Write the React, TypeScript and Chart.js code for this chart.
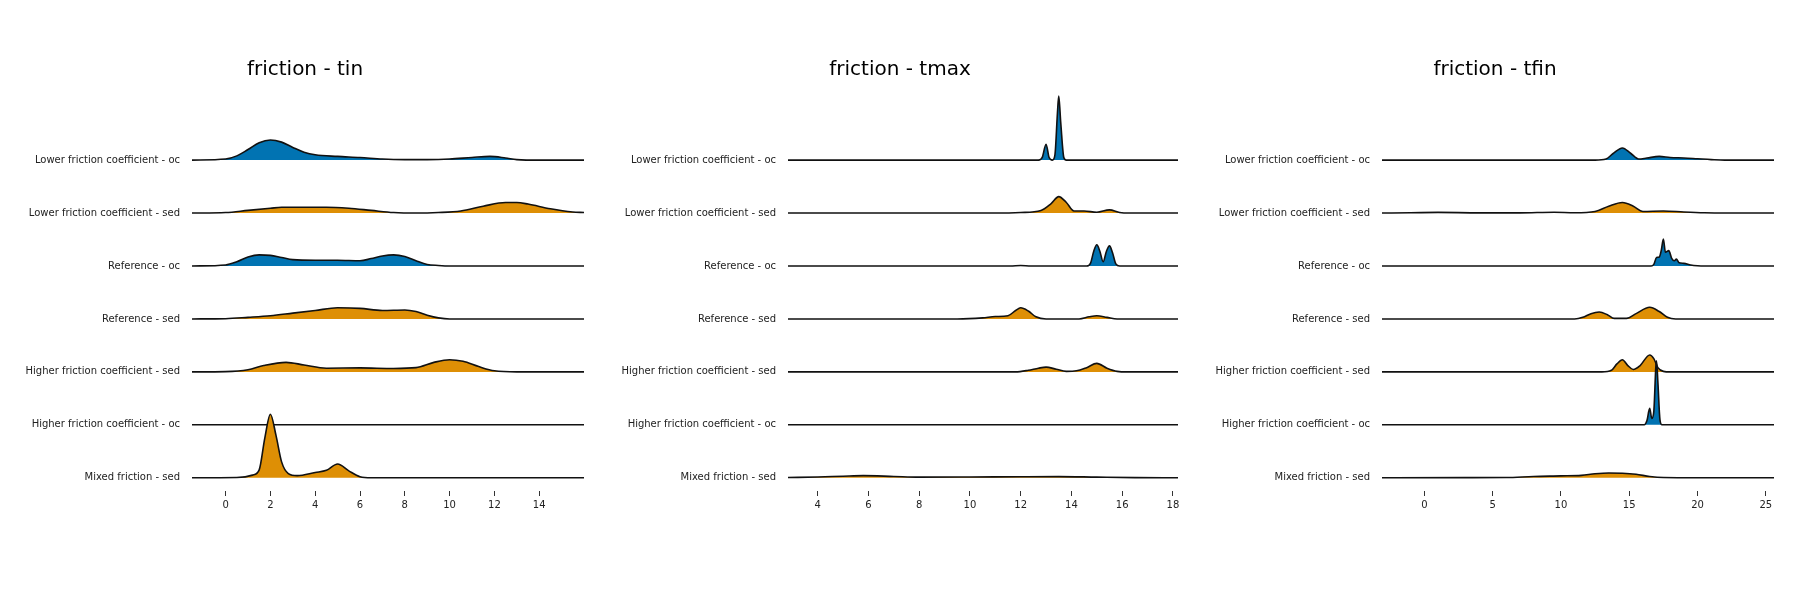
import React, { useEffect, useRef } from "react";
import Chart from "chart.js/auto";

type Pt = [number, number];

// row labels, top to bottom
const rowLabels = [
  "Lower friction coefficient - oc",
  "Lower friction coefficient - sed",
  "Reference - oc",
  "Reference - sed",
  "Higher friction coefficient - sed",
  "Higher friction coefficient - oc",
  "Mixed friction - sed",
];
const rowIsOc = [true, false, true, false, false, true, false];

// ---- friction - tin (heights in row-spacing units)
const tinLowerOc: Pt[] = [[-1.5,0],[0,0.02],[0.5,0.08],[1,0.2],[1.5,0.33],[2,0.38],[2.5,0.34],[3,0.24],[3.5,0.15],[4,0.1],[5,0.07],[6,0.05],[7,0.02],[8,0.01],[9,0.01],[10,0.02],[11,0.05],[11.8,0.07],[12.5,0.04],[13,0.01],[14,0],[16,0]];
const tinLowerSed: Pt[] = [[-1.5,0],[0,0.01],[1,0.05],[2,0.09],[2.5,0.11],[3,0.11],[4.5,0.11],[5.5,0.09],[6.5,0.05],[7.5,0.01],[8.5,0],[9.5,0.01],[10.5,0.04],[11.5,0.13],[12.5,0.2],[13,0.2],[13.5,0.17],[14.5,0.08],[15.5,0.02],[16,0.01]];
const tinRefOc: Pt[] = [[-1.5,0],[0,0.02],[0.5,0.08],[1,0.17],[1.5,0.21],[2,0.2],[2.5,0.16],[3,0.12],[4,0.11],[5,0.11],[6,0.1],[6.5,0.14],[7,0.19],[7.5,0.21],[8,0.18],[8.5,0.1],[9,0.03],[9.5,0.01],[10,0],[16,0]];
const tinRefSed: Pt[] = [[-1.5,0],[0,0.005],[1,0.03],[2,0.06],[3,0.11],[4,0.16],[5,0.21],[6,0.2],[7,0.16],[8,0.17],[8.5,0.14],[9,0.07],[9.5,0.02],[10,0],[16,0]];
const tinHigherSed: Pt[] = [[-1.5,0],[0,0.005],[1,0.04],[1.7,0.12],[2.7,0.18],[3.5,0.13],[4.5,0.07],[6,0.075],[7.5,0.065],[8.5,0.08],[9.3,0.18],[10,0.23],[10.6,0.2],[11.3,0.1],[12,0.02],[13,0],[16,0]];
const tinHigherOc: Pt[] = [[-1.5,0],[16,0]];
const tinMixedSed: Pt[] = [[-1.5,0],[0.5,0.005],[1.2,0.05],[1.5,0.15],[1.75,0.75],[2,1.2],[2.25,0.8],[2.5,0.3],[2.8,0.08],[3.2,0.04],[4,0.1],[4.5,0.14],[5,0.26],[5.5,0.13],[6,0.02],[6.5,0],[16,0]];

// ---- friction - tmax
const tmaxLowerOc: Pt[] = [[2.83,0],[12.7,0],[12.85,0.05],[13,0.3],[13.12,0.05],[13.25,0],[13.35,0.1],[13.45,0.9],[13.5,1.21],[13.58,0.7],[13.7,0.05],[13.8,0],[18.2,0]];
const tmaxLowerSed: Pt[] = [[2.83,0],[11,0],[12,0.01],[12.8,0.05],[13.2,0.18],[13.5,0.31],[13.8,0.2],[14.1,0.04],[14.5,0.04],[15,0.015],[15.5,0.06],[15.9,0.01],[16.3,0],[18.2,0]];
const tmaxRefOc: Pt[] = [[2.83,0],[11.6,0],[12,0.01],[12.4,0],[14.6,0],[14.75,0.05],[14.88,0.28],[15,0.4],[15.12,0.28],[15.25,0.08],[15.38,0.28],[15.5,0.38],[15.62,0.25],[15.75,0.04],[15.9,0],[18.2,0]];
const tmaxRefSed: Pt[] = [[2.83,0],[9.5,0],[10.5,0.02],[11,0.045],[11.5,0.06],[11.8,0.16],[12,0.21],[12.3,0.15],[12.6,0.04],[13,0],[14.3,0],[14.7,0.04],[15,0.06],[15.4,0.03],[15.8,0],[18.2,0]];
const tmaxHigherSed: Pt[] = [[2.83,0],[11.8,0],[12.3,0.03],[12.7,0.07],[13,0.09],[13.4,0.05],[13.8,0.01],[14.2,0.02],[14.6,0.08],[15,0.16],[15.4,0.07],[15.8,0.01],[16.2,0],[18.2,0]];
const tmaxHigherOc: Pt[] = [[2.83,0],[18.2,0]];
const tmaxMixedSed: Pt[] = [[2.83,0.005],[4,0.015],[5,0.03],[5.8,0.04],[7,0.025],[8,0.012],[10,0.015],[12,0.02],[13.5,0.022],[15,0.012],[16.5,0.003],[18.2,0]];

// ---- friction - tfin
const tfinLowerOc: Pt[] = [[-3.1,0],[12.5,0],[13.3,0.02],[13.8,0.12],[14.5,0.23],[15.1,0.13],[15.7,0.02],[16.3,0.04],[17.2,0.07],[18,0.05],[19,0.04],[20,0.025],[21,0.01],[22,0],[25.6,0]];
const tfinLowerSed: Pt[] = [[-3.1,0],[-1,0.005],[1,0.012],[4,0.004],[7,0.004],[9.5,0.015],[11,0.005],[12.5,0.03],[13.5,0.13],[14.5,0.2],[15.3,0.13],[16,0.03],[17.5,0.04],[19,0.02],[20.5,0.005],[22,0],[25.6,0]];
const tfinRefOc: Pt[] = [[-3.1,0],[16.6,0],[16.8,0.03],[17,0.16],[17.2,0.17],[17.35,0.3],[17.5,0.51],[17.65,0.26],[17.9,0.29],[18.1,0.15],[18.3,0.1],[18.45,0.13],[18.65,0.06],[19,0.05],[19.5,0.02],[20,0.005],[20.5,0],[25.6,0]];
const tfinRefSed: Pt[] = [[-3.1,0],[11,0],[11.6,0.03],[12.2,0.1],[12.8,0.13],[13.4,0.08],[13.9,0.01],[14.8,0.01],[15.5,0.1],[16.5,0.22],[17.2,0.14],[17.8,0.03],[18.4,0],[25.6,0]];
const tfinHigherSed: Pt[] = [[-3.1,0],[13,0],[13.7,0.03],[14.1,0.15],[14.5,0.23],[14.9,0.12],[15.3,0.045],[15.8,0.12],[16.5,0.32],[16.8,0.25],[17.1,0.08],[17.5,0.01],[18,0],[25.6,0]];
const tfinHigherOc: Pt[] = [[-3.1,0],[16.1,0],[16.3,0.08],[16.5,0.31],[16.65,0.12],[16.8,0.25],[16.95,1.1],[17,1.21],[17.1,0.8],[17.25,0.1],[17.4,0],[25.6,0]];
const tfinMixedSed: Pt[] = [[-3.1,0],[3,0.002],[6,0.005],[8,0.025],[10,0.035],[11.5,0.045],[12.5,0.075],[13.5,0.09],[14.5,0.085],[15.5,0.065],[16.5,0.025],[17.5,0.005],[20,0],[25.6,0]];

const tinTicks = [0, 2, 4, 6, 8, 10, 12, 14];
const tmaxTicks = [4, 6, 8, 10, 12, 14, 16, 18];
const tfinTicks = [0, 5, 10, 15, 20, 25];

const BLUE = "#0173b2";
const ORANGE = "#de8f05";
const FONT = "'DejaVu Sans', sans-serif";

interface PanelProps {
  title: string;
  ridges: Pt[][];
  xMin: number;
  xMax: number;
  ticks: number[];
  left: number;
  axisWidth: number;
  padRight: number;
  titleX: number;
}

const Panel: React.FC<PanelProps> = ({ title, ridges, xMin, xMax, ticks, left, axisWidth, padRight, titleX }) => {
  const ref = useRef<HTMLCanvasElement>(null);

  useEffect(() => {
    if (!ref.current) return;
    const n = ridges.length;
    const datasets = ridges.map((pts, i) => {
      const base = n - 1 - i;
      return {
        label: rowLabels[i],
        data: pts.map(([x, y]) => ({ x, y: base + y })),
        borderColor: "#111111",
        borderWidth: 1.6,
        backgroundColor: rowIsOc[i] ? BLUE : ORANGE,
        fill: { value: base },
        pointRadius: 0,
        cubicInterpolationMode: "monotone" as const,
        order: n - 1 - i,
      };
    });

    const chart = new Chart(ref.current, {
      type: "line",
      data: { datasets },
      options: {
        animation: false,
        responsive: false,
        layout: { padding: { top: 86, bottom: 79, right: padRight, left: 0 } },
        plugins: { legend: { display: false }, tooltip: { enabled: false } },
        scales: {
          x: {
            type: "linear",
            min: xMin,
            max: xMax,
            afterBuildTicks: (s: any) => {
              s.ticks = ticks.map((v) => ({ value: v }));
            },
            afterFit: (s: any) => {
              s.height = 30;
            },
            border: { display: false },
            grid: { drawOnChartArea: false, drawTicks: true, tickLength: 5, color: "#333" },
            ticks: { color: "#222", font: { family: FONT, size: 10 }, padding: 3, maxRotation: 0 },
          },
          y: {
            min: -0.25,
            max: 7.4,
            afterBuildTicks: (s: any) => {
              s.ticks = [0, 1, 2, 3, 4, 5, 6].map((v) => ({ value: v }));
            },
            afterFit: (s: any) => {
              s.width = axisWidth;
            },
            border: { display: false },
            grid: { display: false },
            ticks: {
              color: "#222",
              font: { family: FONT, size: 10 },
              padding: 4,
              callback: (v: any) => rowLabels[n - 1 - Number(v)],
            },
          },
        },
      },
    });
    return () => chart.destroy();
  }, [ridges, xMin, xMax, ticks, axisWidth, padRight]);

  return (
    <>
      <canvas ref={ref} width={600} height={600} style={{ position: "absolute", left, top: 0, width: 600, height: 600 }} />
      <div
        style={{
          position: "absolute",
          left: titleX - 150,
          width: 300,
          top: 56,
          textAlign: "center",
          fontFamily: FONT,
          fontSize: 20,
          color: "#000",
        }}
      >
        {title}
      </div>
    </>
  );
};

const tinRidges = [tinLowerOc, tinLowerSed, tinRefOc, tinRefSed, tinHigherSed, tinHigherOc, tinMixedSed];
const tmaxRidges = [tmaxLowerOc, tmaxLowerSed, tmaxRefOc, tmaxRefSed, tmaxHigherSed, tmaxHigherOc, tmaxMixedSed];
const tfinRidges = [tfinLowerOc, tfinLowerSed, tfinRefOc, tfinRefSed, tfinHigherSed, tfinHigherOc, tfinMixedSed];

export default function App() {
  return (
    <div style={{ position: "absolute", left: 0, top: 0, width: 1800, height: 600, background: "#fff", overflow: "hidden" }}>
      <Panel title="friction - tin" ridges={tinRidges} xMin={-1.5} xMax={16} ticks={tinTicks} left={0} axisWidth={192} padRight={16} titleX={305} />
      <Panel title="friction - tmax" ridges={tmaxRidges} xMin={2.83} xMax={18.2} ticks={tmaxTicks} left={600} axisWidth={188} padRight={22} titleX={900} />
      <Panel title="friction - tfin" ridges={tfinRidges} xMin={-3.1} xMax={25.6} ticks={tfinTicks} left={1200} axisWidth={182} padRight={26} titleX={1495} />
    </div>
  );
}
